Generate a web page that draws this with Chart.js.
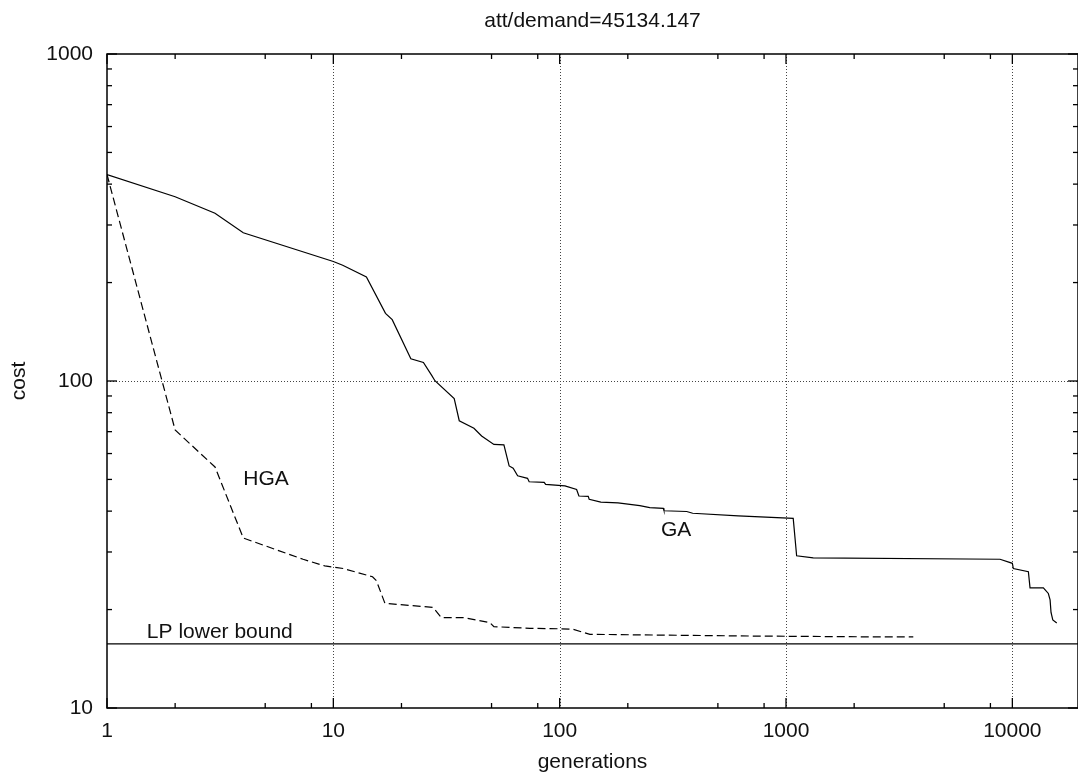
<!DOCTYPE html>
<html><head><meta charset="utf-8">
<script src="https://cdn.jsdelivr.net/npm/chart.js@4.4.0/dist/chart.umd.min.js"></script>
<style>html,body{margin:0;padding:0;background:#fff;overflow:hidden}#wrap{width:1078px;height:778px}</style>
</head><body><div id="wrap"><canvas id="c" width="1078" height="778"></canvas></div>
<script>
const titleText = 'att/demand=45134.147';
const xTitle = 'generations';
const yTitle = 'cost';
const xMajorTicks = [1, 10, 100, 1000, 10000];
const yMajorTicks = [10, 100, 1000];
const xMinorMultipliers = [2, 5, 8];
const yMinorMultipliers = [2, 3, 4, 5, 6, 7, 8, 9];
const xRange = [1, 19500];
const yRange = [10, 1000];

const gaGenerations = [1, 2, 3, 4, 10, 11, 14, 17, 18.2, 22, 25, 27.2, 28.1, 34.2, 36, 41.8, 45.2, 51.2, 56.7, 59.8, 62.3, 65.2, 72.1, 73.3, 85.4, 86.7, 105.5, 118.8, 121.6, 133.7, 135, 152, 181, 226, 250, 287, 289, 364, 387, 615, 1076, 1114, 1319, 8822, 10000, 10100, 11770, 11970, 13710, 14420, 14680, 14820, 15090, 15710];
const gaCost = [428, 366, 326, 284, 232, 226, 208, 161, 154, 117, 114, 104, 100.2, 88.3, 75.6, 71.7, 67.9, 64, 63.8, 55, 54.1, 51.3, 50.4, 49.2, 49.0, 48.3, 47.8, 46.6, 44.5, 44.4, 43.5, 42.6, 42.4, 41.6, 41.0, 40.8, 40.1, 39.9, 39.4, 38.7, 38.0, 29.2, 28.8, 28.5, 27.7, 26.7, 26.1, 23.3, 23.3, 22.4, 21.4, 19.6, 18.6, 18.2];

const hgaGenerations = [1, 2, 3, 4, 7.35, 9.17, 11.05, 14.9, 15.5, 16.9, 27.6, 30, 37.4, 49.2, 51.2, 73.9, 100, 114.7, 136, 693, 2500, 3650];
const hgaCost = [428, 70.8, 54.6, 33.1, 28.5, 27.2, 26.7, 25.2, 24.5, 20.9, 20.3, 18.9, 18.9, 18.24, 17.73, 17.53, 17.47, 17.4, 16.8, 16.6, 16.5, 16.5];

const lpLowerBound = 15.7;

const labelNotes = [
  { text: 'HGA', x: 4, y: 50 },
  { text: 'GA', x: 280, y: 35 },
  { text: 'LP lower bound', x: 1.5, y: 17 }
];

const FONT = '"Liberation Sans", Arial, Helvetica, sans-serif';
const INK = '#111';

function pts(xs, ys) { return xs.map((x, i) => ({ x: x, y: ys[i] })); }

const framePlugin = {
  id: 'frame',
  beforeDatasetsDraw(chart) {
    const ctx = chart.ctx, a = chart.chartArea, xs = chart.scales.x, ys = chart.scales.y;
    ctx.save();
    ctx.strokeStyle = '#444';
    ctx.lineWidth = 1;
    ctx.setLineDash([1, 2]);
    xMajorTicks.forEach(v => {
      const px = Math.round(xs.getPixelForValue(v)) + 0.5;
      if (px <= a.left + 1 || px >= a.right - 1) return;
      ctx.beginPath(); ctx.moveTo(px, a.top); ctx.lineTo(px, a.bottom); ctx.stroke();
    });
    yMajorTicks.forEach(v => {
      const py = Math.round(ys.getPixelForValue(v)) + 0.5;
      if (py <= a.top + 1 || py >= a.bottom - 1) return;
      ctx.beginPath(); ctx.moveTo(a.left, py); ctx.lineTo(a.right, py); ctx.stroke();
    });
    ctx.restore();
  },
  afterDatasetsDraw(chart) {
    const ctx = chart.ctx, a = chart.chartArea, xs = chart.scales.x, ys = chart.scales.y;
    ctx.save();
    ctx.setLineDash([]);
    ctx.strokeStyle = '#000';
    ctx.lineWidth = 1.5;
    ctx.strokeRect(a.left, a.top, a.right - a.left, a.bottom - a.top);
    ctx.lineWidth = 1.3;
    const tick = (x1, y1, x2, y2) => { ctx.beginPath(); ctx.moveTo(x1, y1); ctx.lineTo(x2, y2); ctx.stroke(); };
    xMajorTicks.forEach(d => {
      const vals = [{ v: d, L: 10 }].concat(xMinorMultipliers.map(m => ({ v: d * m, L: 5 })));
      vals.forEach(o => {
        if (o.v < xRange[0] || o.v > xRange[1]) return;
        const px = xs.getPixelForValue(o.v);
        tick(px, a.bottom, px, a.bottom - o.L);
        tick(px, a.top, px, a.top + o.L);
      });
    });
    yMajorTicks.forEach(d => {
      const vals = [{ v: d, L: 10 }].concat(yMinorMultipliers.map(m => ({ v: d * m, L: 5 })));
      vals.forEach(o => {
        if (o.v < yRange[0] || o.v > yRange[1]) return;
        const py = ys.getPixelForValue(o.v);
        tick(a.left, py, a.left + o.L, py);
        tick(a.right, py, a.right - o.L, py);
      });
    });
    ctx.fillStyle = INK;
    ctx.font = '21px ' + FONT;
    ctx.textAlign = 'left';
    ctx.textBaseline = 'middle';
    labelNotes.forEach(n => ctx.fillText(n.text, xs.getPixelForValue(n.x), ys.getPixelForValue(n.y)));
    const cx = (a.left + a.right) / 2;
    ctx.textAlign = 'center';
    ctx.fillText(titleText, cx, 21);
    ctx.fillText(xTitle, cx, 762);
    ctx.translate(19, (a.top + a.bottom) / 2);
    ctx.rotate(-Math.PI / 2);
    ctx.fillText(yTitle, 0, 0);
    ctx.restore();
  }
};

new Chart(document.getElementById('c'), {
  type: 'scatter',
  data: {
    datasets: [
      { label: 'GA', data: pts(gaGenerations, gaCost), showLine: true, borderColor: '#000', borderWidth: 1.2, pointRadius: 0, tension: 0 },
      { label: 'HGA', data: pts(hgaGenerations, hgaCost), showLine: true, borderColor: '#000', borderWidth: 1.2, borderDash: [8, 4], pointRadius: 0, tension: 0 },
      { label: 'LP lower bound', data: pts(xRange, [lpLowerBound, lpLowerBound]), showLine: true, borderColor: '#000', borderWidth: 1.2, pointRadius: 0, tension: 0 }
    ]
  },
  options: {
    responsive: false,
    animation: false,
    devicePixelRatio: 1,
    layout: { padding: { top: 54, right: 0, left: 0, bottom: 0 } },
    plugins: { legend: { display: false }, tooltip: { enabled: false }, title: { display: false } },
    scales: {
      x: {
        type: 'logarithmic', min: xRange[0], max: xRange[1],
        grid: { display: false }, border: { display: false },
        afterBuildTicks: s => { s.ticks = xMajorTicks.map(v => ({ value: v })); },
        afterFit: s => { s.height = 70; },
        ticks: { color: INK, font: { family: FONT, size: 21 }, padding: 3, maxRotation: 0, autoSkip: false, callback: v => String(v) }
      },
      y: {
        type: 'logarithmic', min: yRange[0], max: yRange[1],
        grid: { display: false }, border: { display: false },
        afterBuildTicks: s => { s.ticks = yMajorTicks.map(v => ({ value: v })); },
        afterFit: s => { s.width = 107; },
        ticks: { color: INK, font: { family: FONT, size: 21 }, padding: 6, autoSkip: false, callback: v => String(v) }
      }
    }
  },
  plugins: [framePlugin]
});
</script></body></html>
